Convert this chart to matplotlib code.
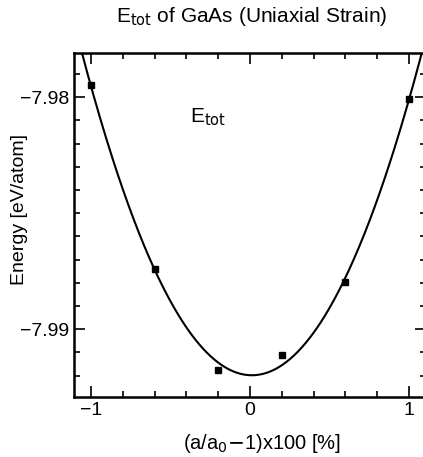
import numpy as np
import matplotlib.pyplot as plt
from matplotlib.ticker import MultipleLocator

# strain (%) and total energy per atom
strain = [-1.0, -0.6, -0.2, 0.2, 0.6, 1.0]
energy = [-7.97950, -7.98741, -7.99177, -7.99112, -7.98797, -7.98010]

plt.rcParams['font.family'] = ['Liberation Sans', 'DejaVu Sans']

fig = plt.figure(figsize=(4.23, 4.57), dpi=100)
ax = fig.add_axes([0.175, 0.131, 0.832, 0.753])

# polynomial fit through the computed points
coef = np.polyfit(strain, energy, 2)
xs = np.linspace(-1.2, 1.2, 300)
ax.plot(xs, np.polyval(coef, xs), color='black', lw=1.5)
ax.plot(strain, energy, 's', color='black', ms=4)

ax.set_xlim(-1.107, 1.107)
ax.set_ylim(-7.99293, -7.9781)
ax.set_xticks([-1, 0, 1])
ax.set_xticklabels(['\u22121', '0', '1'])
ax.set_yticks([-7.99, -7.98])
ax.set_yticklabels(['\u22127.99', '\u22127.98'])
ax.xaxis.set_minor_locator(MultipleLocator(0.2))
ax.yaxis.set_minor_locator(MultipleLocator(0.001))
ax.tick_params(which='both', direction='in', top=True, right=True, labelsize=14, width=1.2)
ax.tick_params(which='major', length=8)
ax.tick_params(which='minor', length=4)
for s in ax.spines.values():
    s.set_linewidth(1.8)

ax.text(-0.38, -7.9811, r'E$_{\rm tot}$', fontsize=15)
ax.set_xlabel(r'(a/a$_0$$-$1)x100 [%]', fontsize=14.5)
ax.xaxis.set_label_coords(0.534, -0.102)
ax.set_ylabel('Energy [eV/atom]', fontsize=14)
ax.yaxis.set_label_coords(-0.131, 0.544)
fig.text(0.596, 0.963, r'E$_{\rm tot}$ of GaAs (Uniaxial Strain)', fontsize=15, ha='center', va='center')

fig.savefig('out.png', dpi=100)
